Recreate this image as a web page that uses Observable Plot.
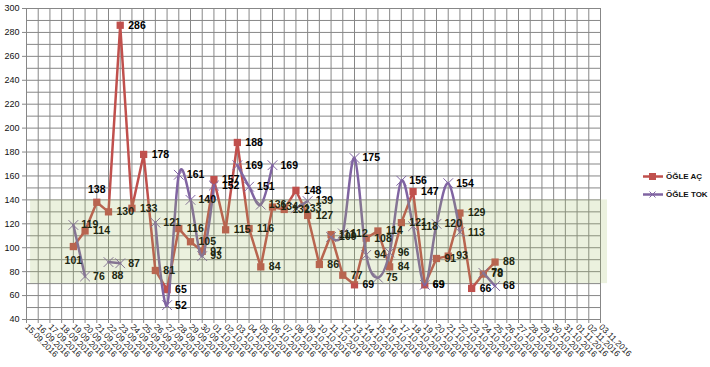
<!DOCTYPE html>
<html>
<head>
<meta charset="utf-8">
<script src="https://cdn.jsdelivr.net/npm/d3@7"></script>
<script src="https://cdn.jsdelivr.net/npm/@observablehq/plot@0.6"></script>
<style>
  html, body { margin: 0; padding: 0; background: #fff; }
  #chart { position: relative; width: 710px; height: 367px; overflow: hidden; }
  #legend { position: absolute; left: 643px; top: 167px; font: bold 8px "Liberation Sans", Arial, sans-serif; color: #111; }
  #legend .row { display: flex; align-items: center; height: 18px; }
  #legend svg { margin-right: 3px; }
</style>
</head>
<body>
<div id="chart"></div>
<script>
// ---- data ----
const dates = [
  "15.09.2016","16.09.2016","17.09.2016","18.09.2016","19.09.2016","20.09.2016","21.09.2016","22.09.2016",
  "23.09.2016","24.09.2016","25.09.2016","26.09.2016","27.09.2016","28.09.2016","29.09.2016","30.09.2016",
  "01.10.2016","02.10.2016","03.10.2016","04.10.2016","05.10.2016","06.10.2016","07.10.2016","08.10.2016",
  "09.10.2016","10.10.2016","11.10.2016","12.10.2016","13.10.2016","14.10.2016","15.10.2016","16.10.2016",
  "17.10.2016","18.10.2016","19.10.2016","20.10.2016","21.10.2016","22.10.2016","23.10.2016","24.10.2016",
  "25.10.2016","26.10.2016","27.10.2016","28.10.2016","29.10.2016","30.10.2016","31.10.2016","01.11.2016",
  "02.11.2016","03.11.2016"
];
const ogleAc = [
  null, null, null, null, 101, 114, 138, 130, 286, 133, 178, 81, 65, 116, 105, 97,
  157, 115, 188, 116, 84, 134, 132, 148, 127, 86, 111, 77, 69, 108, 114, 84,
  121, 147, 69, 91, 93, 129, 66, 78, 88, null, null, null, null, null, null, null,
  null, null
];
const ogleTok = [
  null, null, null, null, 119, 76, null, 88, 87, null, null, 121, 52, 161, 140, 93,
  152, null, 169, 151, 136, 169, null, 133, 139, null, 109, 112, 175, 94, 75, 96,
  156, 118, 69, 120, 154, 113, null, 79, 68, null, null, null, null, null, null, null,
  null, null
];
const seriesNames = ["ÖĞLE AÇ", "ÖĞLE TOK"];
const yTicks = [40, 60, 80, 100, 120, 140, 160, 180, 200, 220, 240, 260, 280, 300];
const yMinorTicks = [40, 50, 60, 70, 80, 90, 100, 110, 120, 130, 140, 150, 160, 170, 180, 190, 200, 210, 220, 230, 240, 250, 260, 270, 280, 290, 300];
const bandLow = 70, bandHigh = 140;

// ---- build ----
const RED = "#C0504D", PURPLE = "#8064A2", GRID = "#878787";
const rows = dates.map((d, i) => ({i, date: d, ac: ogleAc[i], tok: ogleTok[i]}));
const idx = d3.range(dates.length);

// special label placements (Excel had a few labels moved off the default "right")
const acPlace = {4: "below", 6: "above"};
const tokPlace = {7: "below"};
const place = (key, pl, want) => rows.filter(d => d[key] != null && (pl[d.i] || "right") === want);

const labelStyle = {fontSize: 10.5, fontWeight: "bold", fill: "#000", fontFamily: "'Liberation Sans', Arial, sans-serif"};

const chart = Plot.plot({
  width: 710,
  height: 367,
  marginLeft: 26,
  marginRight: 110,
  marginTop: 8,
  marginBottom: 48,
  x: {type: "linear", domain: [0, dates.length - 1]},
  y: {domain: [40, 300]},
  style: {background: "#fff", fontFamily: "'Liberation Sans', Arial, sans-serif", color: "#000"},
  marks: [
    Plot.gridY(yMinorTicks, {stroke: GRID, strokeOpacity: 1, strokeWidth: 1}),
    Plot.gridX(idx, {stroke: GRID, strokeOpacity: 1, strokeWidth: 1}),
    Plot.axisY(yTicks, {tickSize: 4, tickPadding: 3, fontSize: 9, stroke: GRID, fill: "#111", label: null}),
    Plot.axisX(idx, {tickSize: 4, tickPadding: 2, tickRotate: 45, textAnchor: "start", fontSize: 8.5, fill: "#222",
      stroke: GRID, tickFormat: i => dates[i], label: null}),
    // series lines
    Plot.line(rows, {x: "i", y: "ac", stroke: RED, strokeWidth: 2.5}),
    Plot.dot(rows, {x: "i", y: "ac", symbol: "square", fill: RED, r: 4.1}),
    Plot.line(rows, {x: "i", y: "tok", stroke: PURPLE, strokeWidth: 2.5, curve: "cardinal", tension: 0}),
    Plot.dot(rows, {x: "i", y: "tok", symbol: "times", stroke: PURPLE, strokeWidth: 1, r: 4.5}),
    // data labels
    Plot.text(place("ac", acPlace, "right"), {x: "i", y: "ac", text: "ac", dx: 8, textAnchor: "start", ...labelStyle}),
    Plot.text(place("ac", acPlace, "below"), {x: "i", y: "ac", text: "ac", dy: 14, textAnchor: "middle", ...labelStyle}),
    Plot.text(place("ac", acPlace, "above"), {x: "i", y: "ac", text: "ac", dy: -13, textAnchor: "middle", ...labelStyle}),
    Plot.text(place("tok", tokPlace, "right"), {x: "i", y: "tok", text: "tok", dx: 8, textAnchor: "start", ...labelStyle}),
    Plot.text(place("tok", tokPlace, "below"), {x: "i", y: "tok", text: "tok", dx: 9, dy: 14, textAnchor: "middle", ...labelStyle}),
    // reference band drawn on top, semi-transparent
    Plot.rect([{x1: 0.35, x2: dates.length - 0.4, y1: bandLow, y2: bandHigh}],
      {x1: "x1", x2: "x2", y1: "y1", y2: "y2", fill: "#9BBB59", fillOpacity: 0.2})
  ]
});

const root = document.getElementById("chart");
root.appendChild(chart);

// legend
const legend = document.createElement("div");
legend.id = "legend";
const colors = [RED, PURPLE];
seriesNames.forEach((name, k) => {
  const row = document.createElement("div");
  row.className = "row";
  const marker = k === 0
    ? `<rect x="6" y="5" width="7" height="7" fill="${RED}"/>`
    : `<path d="M6.5 5.5 L12.5 11.5 M12.5 5.5 L6.5 11.5" stroke="${PURPLE}" stroke-width="1" fill="none"/>`;
  row.innerHTML = `<svg width="20" height="17"><line x1="0" x2="20" y1="8.5" y2="8.5" stroke="${colors[k]}" stroke-width="2.5"/>${marker}</svg><span>${name}</span>`;
  legend.appendChild(row);
});
root.appendChild(legend);
</script>
</body>
</html>
